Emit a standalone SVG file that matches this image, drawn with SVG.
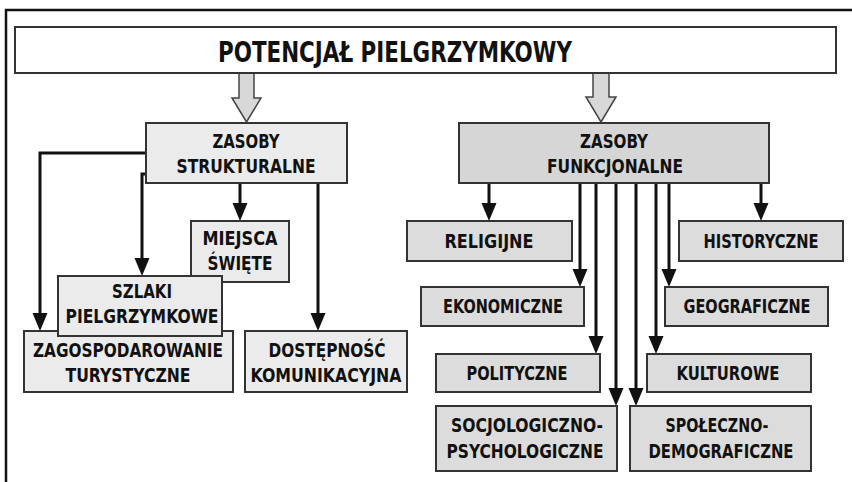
<svg xmlns="http://www.w3.org/2000/svg" width="852" height="482" viewBox="0 0 852 482">
<style>
  .frame { fill: none; stroke: #111; stroke-width: 2.5; }
  .box { stroke: #333; stroke-width: 2; }
  .lt { fill: #ebebeb; }
  .dk { fill: #d6d6d6; }
  .md { fill: #dcdcdc; }
  .title { fill: #fff; stroke: #333; stroke-width: 2; }
  .hollow { fill: #d8d8d8; stroke: #444; stroke-width: 1.5; stroke-linejoin: miter; }
  .conn { fill: none; stroke: #111; stroke-width: 3; marker-end: url(#ah); }
  text { font-family: "Liberation Sans Narrow", "DejaVu Sans Condensed", "Roboto Condensed", "Liberation Sans", sans-serif; font-weight: bold; text-anchor: middle; fill: #111; font-size: 20px; }
  .t { font-size: 29px; }
</style>
<defs>
  <marker id="ah" markerUnits="userSpaceOnUse" markerWidth="20" markerHeight="16" refX="10" refY="7.5" orient="auto">
    <path d="M0,0 L18,7.5 L0,15 z" fill="#111"/>
  </marker>
</defs>
<rect width="852" height="482" fill="#fff"/>
<path class="frame" d="M6,482 V10 H852"/>

<g id="connectors">
  <polygon class="hollow" points="239,73 254,73 254,98 261,98 246.5,122 232,98 239,98"/>
  <polygon class="hollow" points="593,73 609,73 609,97 616,97 601,122 586,97 593,97"/>
  <path class="conn" d="M146,153 H40 V323"/>
  <path class="conn" d="M146,174 H142 V268"/>
  <path class="conn" d="M240,183 V213"/>
  <path class="conn" d="M318,183 V323"/>
  <path class="conn" d="M489,183 V213"/>
  <path class="conn" d="M761,183 V213"/>
  <path class="conn" d="M580,183 V279"/>
  <path class="conn" d="M669,183 V279"/>
  <path class="conn" d="M596,183 V346"/>
  <path class="conn" d="M656,183 V346"/>
  <path class="conn" d="M616,183 V398"/>
  <path class="conn" d="M636,183 V398"/>
</g>

<g id="potencjal">
  <rect class="title" x="15" y="27" width="821" height="46"/>
  <text class="t" x="395" y="62" textLength="354" lengthAdjust="spacingAndGlyphs">POTENCJAŁ PIELGRZYMKOWY</text>
</g>

<g id="zasoby-strukturalne">
  <rect class="box lt" x="146" y="123" width="201" height="60"/>
  <text x="246" y="148" textLength="67" lengthAdjust="spacingAndGlyphs">ZASOBY</text>
  <text x="246" y="173" textLength="139" lengthAdjust="spacingAndGlyphs">STRUKTURALNE</text>
</g>

<g id="miejsca-swiete">
  <rect class="box lt" x="191" y="221" width="98" height="61"/>
  <text x="240" y="245" textLength="75" lengthAdjust="spacingAndGlyphs">MIEJSCA</text>
  <text x="240" y="270" textLength="65" lengthAdjust="spacingAndGlyphs">ŚWIĘTE</text>
</g>

<g id="zagospodarowanie">
  <rect class="box lt" x="24" y="331" width="209" height="61"/>
  <text x="128" y="357" textLength="190" lengthAdjust="spacingAndGlyphs">ZAGOSPODAROWANIE</text>
  <text x="128" y="382" textLength="125" lengthAdjust="spacingAndGlyphs">TURYSTYCZNE</text>
</g>

<g id="szlaki">
  <rect class="box lt" x="58" y="276" width="164" height="60"/>
  <text x="142" y="298" textLength="60" lengthAdjust="spacingAndGlyphs">SZLAKI</text>
  <text x="142" y="323" textLength="153" lengthAdjust="spacingAndGlyphs">PIELGRZYMKOWE</text>
</g>

<g id="dostepnosc">
  <rect class="box lt" x="245" y="331" width="162" height="61"/>
  <text x="327" y="357" textLength="117" lengthAdjust="spacingAndGlyphs">DOSTĘPNOŚĆ</text>
  <text x="326" y="382" textLength="151" lengthAdjust="spacingAndGlyphs">KOMUNIKACYJNA</text>
</g>

<g id="zasoby-funkcjonalne">
  <rect class="box dk" x="459" y="123" width="310" height="60"/>
  <text x="614" y="148" textLength="68" lengthAdjust="spacingAndGlyphs">ZASOBY</text>
  <text x="615" y="173" textLength="136" lengthAdjust="spacingAndGlyphs">FUNKCJONALNE</text>
</g>

<g id="religijne">
  <rect class="box md" x="407" y="221" width="165" height="40"/>
  <text x="489" y="248" textLength="89" lengthAdjust="spacingAndGlyphs">RELIGIJNE</text>
</g>

<g id="historyczne">
  <rect class="box md" x="679" y="221" width="164" height="40"/>
  <text x="761" y="248" textLength="115" lengthAdjust="spacingAndGlyphs">HISTORYCZNE</text>
</g>

<g id="ekonomiczne">
  <rect class="box md" x="421" y="287" width="163" height="39"/>
  <text x="503" y="313" textLength="120" lengthAdjust="spacingAndGlyphs">EKONOMICZNE</text>
</g>

<g id="geograficzne">
  <rect class="box md" x="665" y="287" width="163" height="39"/>
  <text x="747" y="313" textLength="127" lengthAdjust="spacingAndGlyphs">GEOGRAFICZNE</text>
</g>

<g id="polityczne">
  <rect class="box md" x="436" y="354" width="164" height="38"/>
  <text x="517" y="380" textLength="101" lengthAdjust="spacingAndGlyphs">POLITYCZNE</text>
</g>

<g id="kulturowe">
  <rect class="box md" x="647" y="354" width="164" height="38"/>
  <text x="728" y="380" textLength="103" lengthAdjust="spacingAndGlyphs">KULTUROWE</text>
</g>

<g id="socjologiczno">
  <rect class="box md" x="436" y="406" width="181" height="65"/>
  <text x="527" y="432" textLength="152" lengthAdjust="spacingAndGlyphs">SOCJOLOGICZNO-</text>
  <text x="525" y="458" textLength="157" lengthAdjust="spacingAndGlyphs">PSYCHOLOGICZNE</text>
</g>

<g id="spoleczno">
  <rect class="box md" x="630" y="406" width="181" height="65"/>
  <text x="717" y="432" textLength="103" lengthAdjust="spacingAndGlyphs">SPOŁECZNO-</text>
  <text x="721" y="458" textLength="145" lengthAdjust="spacingAndGlyphs">DEMOGRAFICZNE</text>
</g>
</svg>
